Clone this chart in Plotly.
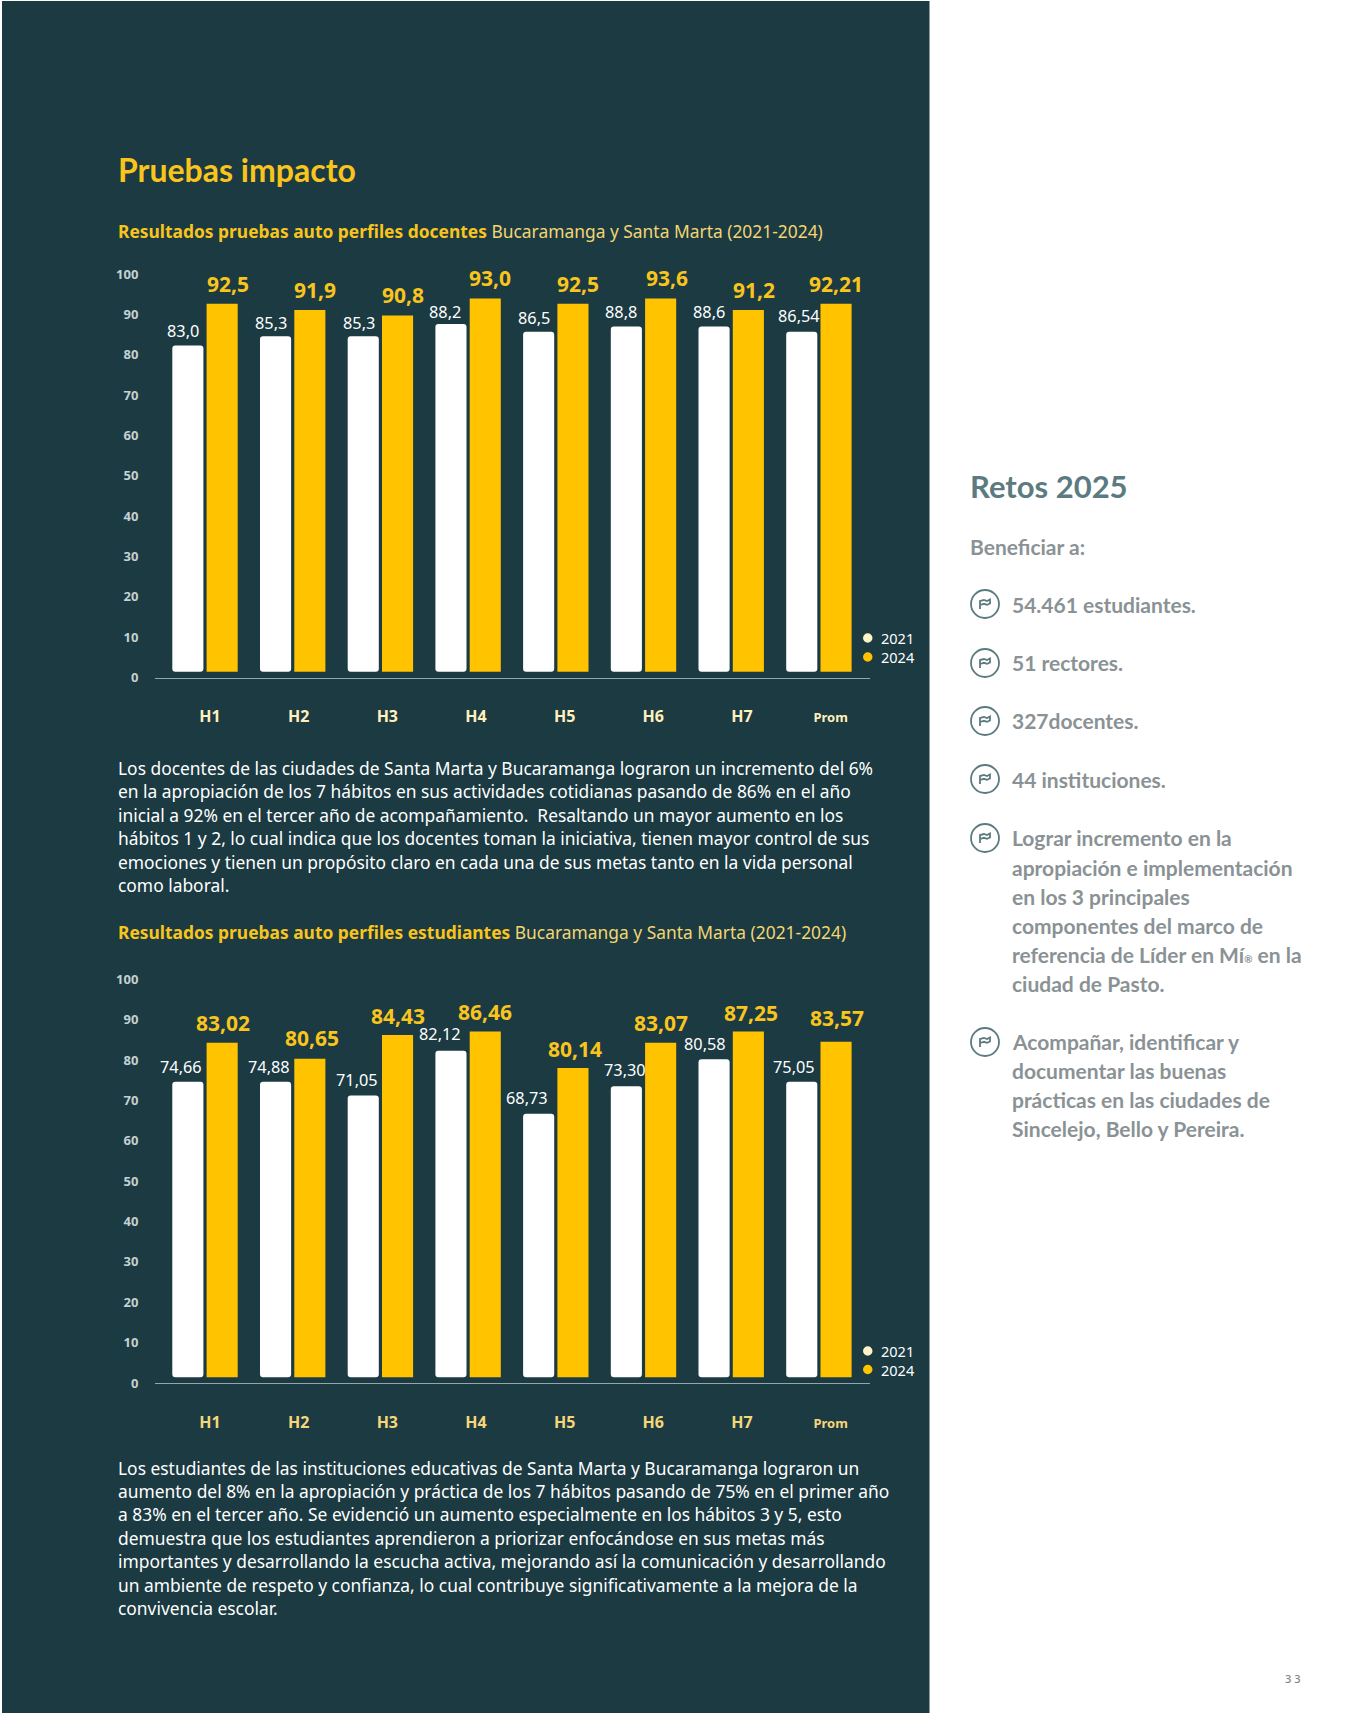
import plotly.graph_objects as go

W, H = 1359, 1713
BG = "#1B3A42"
GOLD = "#FFC300"
GOLD_TXT = "#F9C51C"
SLATE = "#5B7B80"
GREY = "#8A9295"

# ---------- data ----------
categories = ["H1", "H2", "H3", "H4", "H5", "H6", "H7", "Prom"]
y_ticks = [0, 10, 20, 30, 40, 50, 60, 70, 80, 90, 100]

doc_2021 = [82.3, 84.6, 84.6, 87.6, 85.7, 87.0, 87.0, 85.7]
doc_2024 = [92.6, 91.1, 89.7, 93.9, 92.6, 93.9, 91.1, 92.6]
doc_2021_labels = ["83,0", "85,3", "85,3", "88,2", "86,5", "88,8", "88,6", "86,54"]
doc_2024_labels = ["92,5", "91,9", "90,8", "93,0", "92,5", "93,6", "91,2", "92,21"]

est_2021 = [74.6, 74.6, 71.2, 82.3, 66.7, 73.5, 80.2, 74.6]
est_2024 = [84.3, 80.3, 86.2, 87.1, 78.0, 84.3, 87.1, 84.5]
est_2021_labels = ["74,66", "74,88", "71,05", "82,12", "68,73", "73,30", "80,58", "75,05"]
est_2024_labels = ["83,02", "80,65", "84,43", "86,46", "80,14", "83,07", "87,25", "83,57"]

title = "Pruebas impacto"
head1 = ("Resultados pruebas auto perfiles docentes", " Bucaramanga y Santa Marta (2021-2024)")
head2 = ("Resultados pruebas auto perfiles estudiantes", " Bucaramanga y Santa Marta (2021-2024)")
para1 = [
    "Los docentes de las ciudades de Santa Marta y Bucaramanga lograron un incremento del 6%",
    "en la apropiación de los 7 hábitos en sus actividades cotidianas pasando de 86% en el año",
    "inicial a 92% en el tercer año de acompañamiento.  Resaltando un mayor aumento en los",
    "hábitos 1 y 2, lo cual indica que los docentes toman la iniciativa, tienen mayor control de sus",
    "emociones y tienen un propósito claro en cada una de sus metas tanto en la vida personal",
    "como laboral.",
]
para2 = [
    "Los estudiantes de las instituciones educativas de Santa Marta y Bucaramanga lograron un",
    "aumento del 8% en la apropiación y práctica de los 7 hábitos pasando de 75% en el primer año",
    "a 83% en el tercer año. Se evidenció un aumento especialmente en los hábitos 3 y 5, esto",
    "demuestra que los estudiantes aprendieron a priorizar enfocándose en sus metas más",
    "importantes y desarrollando la escucha activa, mejorando así la comunicación y desarrollando",
    "un ambiente de respeto y confianza, lo cual contribuye significativamente a la mejora de la",
    "convivencia escolar.",
]
retos_title = "Retos 2025"
retos_intro = "Beneficiar a:"
retos_items = [
    ["54.461 estudiantes."],
    ["51 rectores."],
    ["327docentes."],
    ["44 instituciones."],
    ["Lograr incremento en la", "apropiación e implementación", "en los 3 principales",
     "componentes del marco de", 'referencia de Líder en Mí<span style="font-size:10px">®</span> en la', "ciudad de Pasto."],
    ["Acompañar, identificar y", "documentar las buenas", "prácticas en las ciudades de",
     "Sincelejo, Bello y Pereira."],
]

# ---------- layout constants ----------
FONT = "Noto Sans"
RFONT = "Lato"
AX_L, AX_R = 155, 870
UNIT = 87.7
X0 = -(205 - AX_L) / UNIT
X1 = (AX_R - 205) / UNIT
BASE = 1.4
SLOT = 0.196
xs = list(range(len(categories)))

def px(x):
    return x / W

def py(y):
    return 1 - y / H

fig = go.Figure()
shapes = [dict(type="rect", xref="paper", yref="paper", x0=px(2), x1=px(929.5), y0=py(1), y1=py(H),
               fillcolor=BG, line_width=0, layer="below")]
annotations = []

def text(x, y, s, size, color, family=FONT, weight=400, anchor="left"):
    annotations.append(dict(xref="paper", yref="paper", x=px(x), y=py(y), text=s, showarrow=False,
                            xanchor=anchor, yanchor="middle", align="left",
                            font=dict(family=family, size=size, color=color, weight=weight)))

def chart(idx, v21, v24, l21, l24, n21x, n21y, n24x, n24y, y_top, y_zero, tick_color, tick_len, key_y):
    suffix = "" if idx == 1 else str(idx)
    for name, vals, color, cr in (("2021", v21, "#FFFFFF", 3), ("2024", v24, GOLD, 0)):
        fig.add_trace(go.Bar(x=xs, y=[v - BASE for v in vals], base=BASE, name=name,
                             marker=dict(color=color, line_width=0, cornerradius=cr),
                             xaxis="x" + suffix, yaxis="y" + suffix, showlegend=False))
    for i in xs:
        annotations.append(dict(xref="x" + suffix, yref="y" + suffix, x=i - SLOT, y=v21[i], text=l21[i],
                                showarrow=False, xanchor="center", yanchor="middle",
                                xshift=n21x[i], yshift=n21y[i],
                                font=dict(family=FONT, size=16.3, color="#FFFFFF")))
        annotations.append(dict(xref="x" + suffix, yref="y" + suffix, x=i + SLOT, y=v24[i], text=l24[i],
                                showarrow=False, xanchor="center", yanchor="middle",
                                xshift=n24x[i], yshift=n24y[i],
                                font=dict(family=FONT, size=21, color=GOLD_TXT, weight=700)))
    ticktext = [c if c != "Prom" else '<span style="font-size:13px">Prom</span>' for c in categories]
    fig.update_layout({
        "xaxis" + suffix: dict(domain=[px(AX_L), px(AX_R)], range=[X0, X1], anchor="y" + suffix, automargin=False,
                               showgrid=False, zeroline=False, showline=True, linecolor="#93A6A9", linewidth=1,
                               tickmode="array", tickvals=[i * 1.011 + 0.057 for i in xs], ticktext=ticktext,
                               ticks="outside", ticklen=tick_len, tickcolor="rgba(0,0,0,0)",
                               tickfont=dict(family=FONT, size=16, color=tick_color, weight=700)),
        "yaxis" + suffix: dict(domain=[py(y_zero), py(y_top)], range=[0, 100], anchor="x" + suffix, automargin=False,
                               showgrid=False, zeroline=False, showline=False,
                               tickmode="array", tickvals=y_ticks,
                               ticks="outside", ticklen=13, tickcolor="rgba(0,0,0,0)",
                               tickfont=dict(family=FONT, size=13, color="#C6D0D1", weight=700)),
    })
    # legend key
    for name, col, dy in (("2021", "#FFF3C9", key_y[0]), ("2024", GOLD, key_y[1])):
        shapes.append(dict(type="circle", xref="paper", yref="paper",
                           x0=px(863), x1=px(872.5), y0=py(dy + 4.7), y1=py(dy - 4.7),
                           fillcolor=col, line_width=0))
        text(879, dy, name, 14.5, "#FFFFFF")

chart(1, doc_2021, doc_2024, doc_2021_labels, doc_2024_labels,
      [-4.7, -4.5, -4.5, -5.5, -5, -5, -4.7, -3], [14.7, 12.7, 12.7, 12.3, 14, 14.7, 14.7, 16],
      [5.5, 5, 5, 5, 5.5, 6, 5.7, 0], [20.3] * 8, 274, 677.5, "#FFF0BE", 24, (638, 657))
chart(2, est_2021, est_2024, est_2021_labels, est_2024_labels,
      [-7.3, -6.2, -6.5, -11.2, -11.3, -1, -9, -7.7], [15, 15, 15.7, 17, 15.7, 16.7, 15.7, 15],
      [1, 2, 0, 0, 2, 0, 3, 1], [19.3, 20.5, 19, 19.7, 19.4, 19.3, 18.7, 24], 979.3, 1383, "#F5D77A", 25, (1351, 1369.5))

# ---------- left column text ----------
text(116, 169, title, 32, GOLD_TXT, family=RFONT, weight=700)
for y, (b, n) in ((230.6, head1), (931.5, head2)):
    text(116, y, f'<b>{b}</b><span style="color:#F3D572">{n}</span>', 17.4, GOLD_TXT)
for i, line in enumerate(para1):
    text(116, 768 + i * 23.4, line, 17.4, "#FFFFFF")
for i, line in enumerate(para2):
    text(116, 1467.5 + i * 23.4, line, 17.4, "#FFFFFF")

# ---------- right column ----------
text(968, 486, retos_title, 31, SLATE, family=RFONT, weight=700)
text(968, 546, retos_intro, 21, GREY, family=RFONT, weight=700)
item_y = [604.5, 662.5, 720.5, 779.5, 838, 1041]
icon_y = [604, 663, 721, 779, 838, 1042]
for lines, ty, iy in zip(retos_items, item_y, icon_y):
    for j, line in enumerate(lines):
        text(1010, ty + j * 29.2, line, 21, GREY, family=RFONT, weight=700)
    cx, r = 985, 14
    shapes.append(dict(type="circle", xref="paper", yref="paper",
                       x0=px(cx - r), x1=px(cx + r), y0=py(iy + r), y1=py(iy - r),
                       line=dict(color=SLATE, width=1.8), fillcolor="rgba(0,0,0,0)"))
    pts = [(-5, 5), (-5, -3), (-1, -4), (2, -3), (5, -4.5), (5, -0.5), (2, 0.8), (-1, -0.2), (-5, 1)]
    path = "M " + " L ".join(f"{px(cx + a):.5f} {py(iy + b):.5f}" for a, b in pts)
    shapes.append(dict(type="path", xref="paper", yref="paper", path=path,
                       line=dict(color=SLATE, width=1.8), fillcolor="rgba(0,0,0,0)"))
text(1292, 1678, "3 3", 11, "#808587", anchor="center", weight=500)

fig.update_layout(width=W, height=H, margin=dict(l=0, r=0, t=0, b=0, autoexpand=False), paper_bgcolor="#FFFFFF",
                  plot_bgcolor="rgba(0,0,0,0)", barmode="group", bargap=0.218, bargroupgap=0.093,
                  shapes=shapes, annotations=annotations, showlegend=False)

fig.write_html("out.html", config=dict(displayModeBar=False),
               post_script="document.body.style.margin='0';")
